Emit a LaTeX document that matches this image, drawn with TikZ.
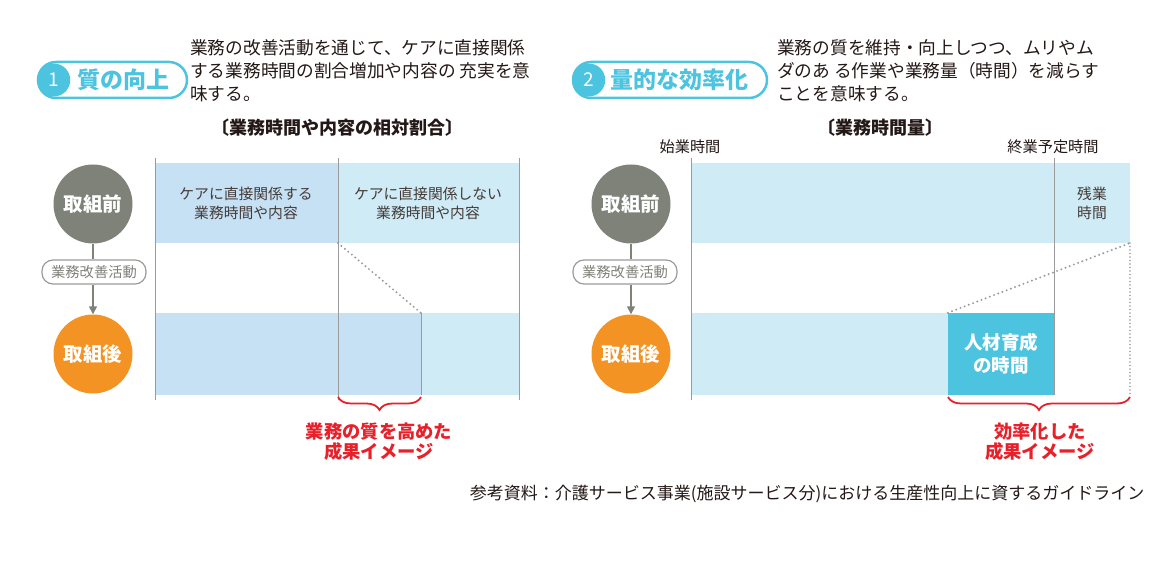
\documentclass[tikz,border=0pt]{standalone}
\usepackage{fontspec}
\setmainfont{Noto Sans CJK JP}
\usetikzlibrary{arrows.meta,positioning,calc,decorations.pathreplacing}
\definecolor{kgray}{HTML}{7F8279}
\definecolor{korange}{HTML}{F39323}
\definecolor{kcyan}{HTML}{4DC4DF}
\definecolor{kblue}{HTML}{C6E1F4}
\definecolor{ksky}{HTML}{CFEBF5}
\definecolor{kred}{HTML}{E8202A}
\definecolor{kline}{HTML}{9B9B9B}
\definecolor{kdark}{HTML}{231815}
\tikzset{
  stage/.style={circle,minimum size=79pt,inner sep=0pt,text=white,font=\fontsize{19.5}{21}\selectfont\bfseries},
  before/.style={stage,fill=kgray},
  after/.style={stage,fill=korange},
  act/.style={draw=kline,line width=1.2pt,rounded corners=11pt,minimum width=104pt,minimum height=24pt,inner sep=0pt,fill=white,text=kgray,font=\fontsize{14.3}{15}\selectfont},
  flow/.style={draw=kgray,line width=1.5pt},
  axis/.style={draw=kline,line width=1pt},
  dots/.style={draw=kline,line width=2.2pt,dash pattern=on 0pt off 4.5pt,line cap=round},
  brc/.style={draw=kred,line width=1.8pt,decorate,decoration={brace,mirror,amplitude=13pt}},
  res/.style={text=kred,align=center,font=\fontsize{18.3}{20}\selectfont\bfseries},
  desc/.style={align=left,anchor=west,inner sep=0pt,text=kdark,font=\fontsize{17.7}{23}\selectfont},
  head/.style={text=kdark,font=\fontsize{18}{20}\selectfont\bfseries},
  cell/.style={align=center,text=kdark!85,font=\fontsize{14.8}{19}\selectfont},
  tick/.style={text=kdark,font=\fontsize{15.2}{17}\selectfont},
  pill/.style={draw=kcyan,line width=2.5pt,rounded corners=18pt,minimum height=36pt,inner sep=0pt},
  numdot/.style={circle,fill=kcyan,minimum size=33pt,inner sep=0pt,text=white,font=\fontsize{19}{20}\selectfont},
  badgetext/.style={text=kcyan,inner sep=0pt,font=\fontsize{23}{25}\selectfont\bfseries},
}
\begin{document}
\begin{tikzpicture}[x=1pt,y=-1pt]
  \useasboundingbox (0,0) rectangle (1175,569);
  % left panel: quality
  \node[pill,minimum width=149pt] (badgeL) at (112.5,80) {};
  \node[numdot] (numL) at ($(badgeL.west)+(17,0)$) {1};
  \node[badgetext,right=7pt of numL] (titleL) {質の向上};
  \node[desc] (descL) at (190,71) {業務の改善活動を通じて、ケアに直接関係\\する業務時間の割合増加や内容の 充実を意\\味する。};
  \node[head] (headL) at (337,128) {〔業務時間や内容の相対割合〕};

  \fill[kblue] (155,163) rectangle (338,243);
  \fill[ksky] (338,163) rectangle (519,243);
  \fill[kblue] (155,313) rectangle (421,395);
  \fill[ksky] (421,313) rectangle (519,395);
  \draw[axis] (155,158) -- (155,400);
  \draw[axis] (338,158) -- (338,400);
  \draw[axis] (519,158) -- (519,400);
  \draw[axis] (421,313) -- (421,395);
  \node[cell] (careL) at (246,203) {ケアに直接関係する\\業務時間や内容};
  \node[cell] (othL) at (428,203) {ケアに直接関係しない\\業務時間や内容};
  \coordinate (cutA) at (338,243);
  \coordinate (cutB) at (421,313);
  \draw[dots] (cutA) -- (cutB);

  \node[before] (preL) at (93,204) {取組前};
  \node[act] (actL) at (94,272) {業務改善活動};
  \node[after] (postL) at (93,354) {取組後};
  \draw[flow] (preL) -- (preL |- actL.north);
  \draw[flow,-{Triangle[length=8pt,width=8pt]}] (preL |- actL.south) -- (postL);

  \coordinate (brL1) at (338,397);
  \coordinate (brL2) at (421,397);
  \draw[brc] (brL1) -- (brL2);
  \node[res] (resL) at (379,442) {業務の質を高めた\\成果イメージ};

  % right panel: efficiency
  \node[pill,minimum width=194pt] (badgeR) at (670,80) {};
  \node[numdot] (numR) at ($(badgeR.west)+(17,0)$) {2};
  \node[badgetext,right=5pt of numR] (titleR) {量的な効率化};
  \node[desc] (descR) at (777,71) {業務の質を維持・向上しつつ、ムリやム\\ダのあ る作業や業務量（時間）を減らす\\ことを意味する。};
  \node[head] (headR) at (880,128) {〔業務時間量〕};
  \node[tick] (startT) at (690,147) {始業時間};
  \node[tick] (endT) at (1053,147) {終業予定時間};

  \fill[ksky] (691,163) rectangle (1130,243);
  \fill[ksky] (691,313) rectangle (948,395);
  \draw[axis] (691,158) -- (691,400);
  \node[fill=kcyan,minimum width=106pt,minimum height=82pt,inner sep=0pt,align=center,text=white,font=\fontsize{18.5}{23}\selectfont\bfseries] (train) at (1001,354) {人材育成\\の時間};
  \draw[axis] (1054,158) -- (1054,395);
  \node[cell] (overR) at (1092,203) {残業\\時間};
  \coordinate (cutC) at (1130,243);
  \coordinate (cutD) at (1130,395);
  \draw[dots] (train.north west) -- (cutC);
  \draw[dots,line width=1.6pt,dash pattern=on 0pt off 3.5pt] (cutC) -- (cutD);

  \node[before] (preR) at (631,204) {取組前};
  \node[act] (actR) at (625,272) {業務改善活動};
  \node[after] (postR) at (631,354) {取組後};
  \draw[flow] (preR) -- (preR |- actR.north);
  \draw[flow,-{Triangle[length=8pt,width=8pt]}] (preR |- actR.south) -- (postR);

  \coordinate (brR1) at (948,397);
  \coordinate (brR2) at (1130,397);
  \draw[brc] (brR1) -- (brR2);
  \node[res] (resR) at (1040,442) {効率化した\\成果イメージ};

  \node[text=kdark,font=\fontsize{17}{19}\selectfont] (src) at (807,494) {参考資料：介護サービス事業(施設サービス分)における生産性向上に資するガイドライン};
\end{tikzpicture}
\end{document}
